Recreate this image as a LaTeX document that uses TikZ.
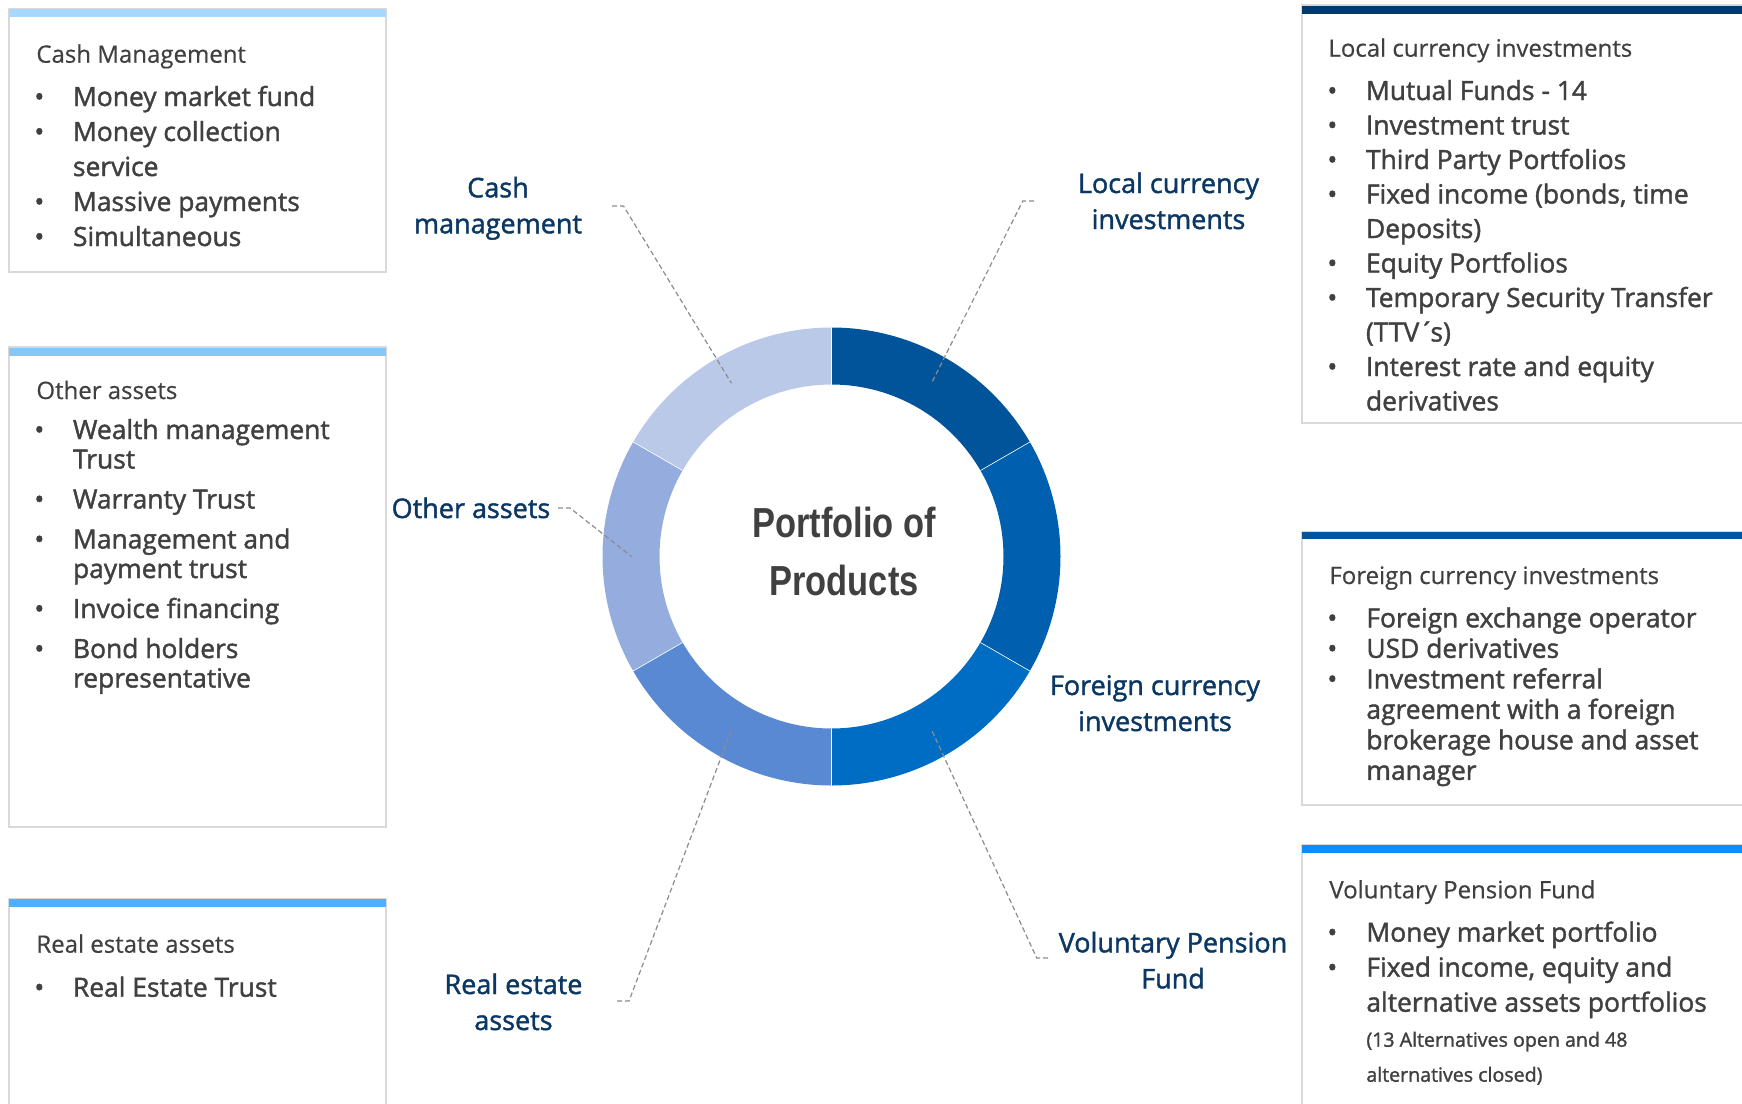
\documentclass[tikz,border=0pt]{standalone}
\usepackage{fontspec}
\setmainfont{Open Sans}[FakeBold=0.5]
\newfontfamily\semifont{Open Sans}[FakeBold=1.5]
\newfontfamily\narrowfont{Liberation Sans}[FakeStretch=0.82]
\usepackage{array}

\definecolor{textgray}{HTML}{404040}
\definecolor{navy}{HTML}{0B3763}
\definecolor{frame}{HTML}{D9D9D9}
\definecolor{leadgray}{HTML}{8C8C8C}
\definecolor{segA}{HTML}{02549A}
\definecolor{segB}{HTML}{0060AF}
\definecolor{segC}{HTML}{006DC5}
\definecolor{segD}{HTML}{5A89D4}
\definecolor{segE}{HTML}{95ADDE}
\definecolor{segF}{HTML}{BBC9E9}
\definecolor{barcash}{HTML}{A8D8FF}
\definecolor{barother}{HTML}{87C7F8}
\definecolor{barreal}{HTML}{50AEFF}
\definecolor{barlocal}{HTML}{003A6E}
\definecolor{barforeign}{HTML}{0057A0}
\definecolor{barpension}{HTML}{0A8DFF}

\begin{document}
\begin{tikzpicture}[x=0.5pt, y=-0.5pt]
        \tikzstyle{box}=[draw=frame, line width=1pt, fill=white]
        \tikzstyle{head}=[anchor=base west, inner sep=0pt, text=textgray, font=\fontsize{12}{14}\selectfont]
        \tikzstyle{list}=[anchor=base west, inner sep=0pt, text=textgray, font=\semifont\fontsize{13.2}{17.5}\selectfont]
        \tikzstyle{lbl}=[anchor=base, inner sep=0pt, align=center, text=navy, font=\semifont\fontsize{13.5}{18}\selectfont]
        \tikzstyle{leader}=[draw=leadgray, line width=0.6pt, dash pattern=on 2.5pt off 1.5pt]

        \useasboundingbox (0,0) rectangle (1742,1104);
        \clip (0,0) rectangle (1742,1104);

% The six product boxes with their coloured top bars
        \draw[box] (9,9) rectangle (386,272);    \fill[barcash] (9,9) rectangle (386,17);
        \draw[box] (9,347) rectangle (386,827);  \fill[barother] (9,348) rectangle (386,356);
        \draw[box] (9,899) rectangle (386,1120); \fill[barreal] (9,899) rectangle (386,907);
        \draw[box] (1302,5) rectangle (1760,423);    \fill[barlocal] (1302,6) rectangle (1760,14);
        \draw[box] (1302,532) rectangle (1760,805);  \fill[barforeign] (1302,532) rectangle (1760,539);
        \draw[box] (1302,845) rectangle (1760,1120); \fill[barpension] (1302,845) rectangle (1760,853);

        \node[head] (cashhead) at (36,62.7) {Cash Management};
        \node[list] (cashlist) at (34,106) {\begin{tabular}[t]{@{}p{19.3pt}@{}l@{}}
            \textbullet & Money market fund\\
            \textbullet & Money collection\\
             & service\\
            \textbullet & Massive payments\\
            \textbullet & Simultaneous
        \end{tabular}};

        \node[head] (otherhead) at (36,399) {Other assets};
        \node[list, font=\semifont\fontsize{13.2}{14.75}\selectfont] (otherlist) at (34,439) {\begin{tabular}[t]{@{}p{19.3pt}@{}l@{}}
            \textbullet & Wealth management\\
             & Trust\\[5.25pt]
            \textbullet & Warranty Trust\\[5.25pt]
            \textbullet & Management and\\
             & payment trust\\[5.25pt]
            \textbullet & Invoice financing\\[5.25pt]
            \textbullet & Bond holders\\
             & representative
        \end{tabular}};

        \node[head] (realhead) at (36,952.7) {Real estate assets};
        \node[list] (reallist) at (34,996.7) {\begin{tabular}[t]{@{}p{19.3pt}@{}l@{}}
            \textbullet & Real Estate Trust
        \end{tabular}};

        \node[head] (localhead) at (1328,56.7) {Local currency investments};
        \node[list, font=\semifont\fontsize{13.2}{17.25}\selectfont] (locallist) at (1327,100) {\begin{tabular}[t]{@{}p{19.3pt}@{}l@{}}
            \textbullet & Mutual Funds - 14\\
            \textbullet & Investment trust\\
            \textbullet & Third Party Portfolios\\
            \textbullet & Fixed income (bonds, time\\
             & Deposits)\\
            \textbullet & Equity Portfolios\\
            \textbullet & Temporary Security Transfer\\
             & (TTV´\kern-2pt s)\\
            \textbullet & Interest rate and equity\\
             & derivatives
        \end{tabular}};

        \node[head] (foreignhead) at (1329,584) {Foreign currency investments};
        \node[list, font=\semifont\fontsize{13.2}{15.25}\selectfont] (foreignlist) at (1327,627.3) {\begin{tabular}[t]{@{}p{19.5pt}@{}l@{}}
            \textbullet & Foreign exchange operator\\
            \textbullet & USD derivatives\\
            \textbullet & Investment referral\\
             & agreement with a foreign\\
             & brokerage house and asset\\
             & manager
        \end{tabular}};

        \node[head] (pensionhead) at (1329,898.3) {Voluntary Pension Fund};
        \node[list] (pensionlist) at (1327,941.7) {\begin{tabular}[t]{@{}p{19.5pt}@{}l@{}}
            \textbullet & Money market portfolio\\
            \textbullet & Fixed income, equity and\\
             & alternative assets portfolios\\
             & {\fontsize{9.8}{12}\selectfont (13 Alternatives open and 48}\\
             & {\fontsize{9.8}{12}\selectfont alternatives closed)}
        \end{tabular}};

% The donut with its six product groups
        \begin{scope}[shift={(831.5,556.5)}, yscale=-1]
            \foreach \a/\c in {90/segA, 30/segB, -30/segC, -90/segD, -150/segE, 150/segF}
                \fill[\c] (\a:229) arc[start angle=\a, delta angle=-60, radius=229] -- ({\a-60}:172) arc[start angle={\a-60}, delta angle=60, radius=172] -- cycle;
            \foreach \a in {90, 30, -30, -90, -150, 150}
                \draw[white, line width=0.3pt] (\a:172) -- (\a:229);
            \coordinate (localpt) at (60:200);
            \coordinate (cashpt) at (120:200);
            \coordinate (otherpt) at (180:200);
            \coordinate (realpt) at (240:200);
            \coordinate (pensionpt) at (300:200);
        \end{scope}

        \node[anchor=base, inner sep=0pt, align=center, text=textgray, font=\narrowfont\bfseries\fontsize{21}{29}\selectfont] (title) at (844,595) {Portfolio of\\ Products};

        \node[lbl] (cashlbl) at (498,233.3) {Cash\\ management};
        \node[lbl] (locallbl) at (1168.5,229) {Local currency\\ investments};
        \node[lbl] (otherlbl) at (471,518) {Other assets};
        \node[lbl] (foreignlbl) at (1155,731) {Foreign currency\\ investments};
        \node[lbl] (pensionlbl) at (1173,988.3) {Voluntary Pension\\ Fund};
        \node[lbl] (reallbl) at (513.5,1030) {Real estate\\ assets};

        \coordinate (cashtip) at (612,206);
        \coordinate (localtip) at (1034,201);
        \coordinate (othertip) at (558,508);
        \coordinate (realtip) at (617,1001);
        \coordinate (pensiontip) at (1048,958);

        \draw[leader] (cashtip) -- ++(11.5,0) -- (cashpt);
        \draw[leader] (localtip) -- ++(-11.3,0) -- (localpt);
        \draw[leader] (othertip) -- ++(12,0) -- (otherpt);
        \draw[leader] (realtip) -- ++(12,0) -- (realpt);
        \draw[leader] (pensiontip) -- ++(-11.3,0) -- (pensionpt);

    \end{tikzpicture}
\end{document}
